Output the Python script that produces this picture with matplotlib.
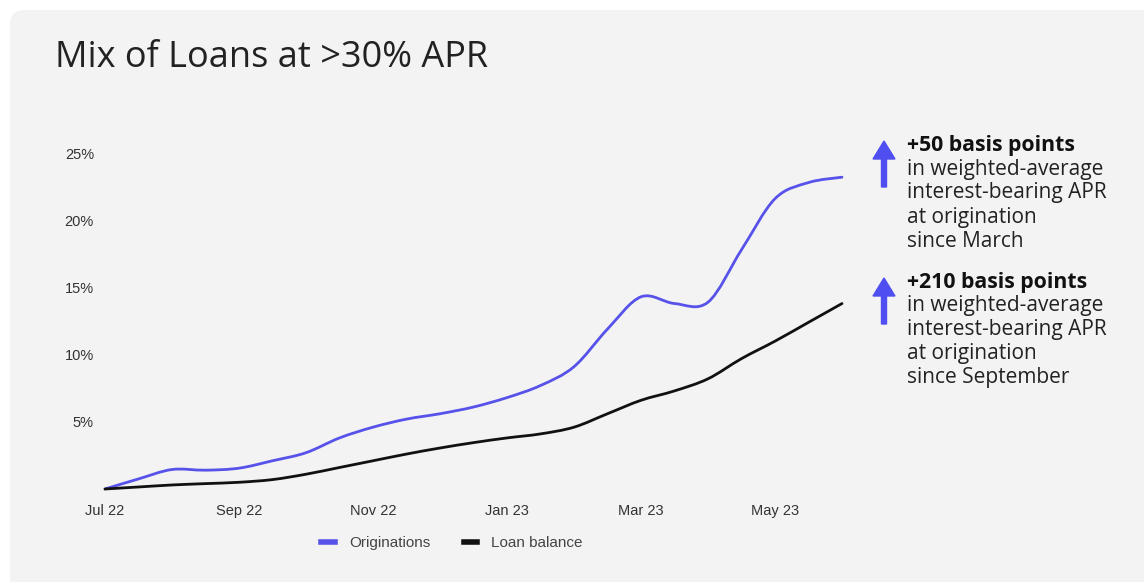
import matplotlib
matplotlib.use("Agg")
import matplotlib.pyplot as plt
from matplotlib.patches import FancyBboxPatch, FancyArrow, PathPatch
from matplotlib.path import Path
from matplotlib.lines import Line2D
from matplotlib.transforms import IdentityTransform

# data (semi-monthly reading, months from Jul 22)
months = [i * 0.5 for i in range(23)]
originations = [0, 0.75, 1.45, 1.4, 1.55, 2.1, 2.7, 3.8, 4.6, 5.2, 5.6, 6.1,
                6.8, 7.7, 9.1, 11.9, 14.3, 13.8, 13.9, 17.8, 21.6, 22.8, 23.2]
loan_balance = [0, 0.15, 0.3, 0.4, 0.5, 0.7, 1.1, 1.6, 2.1, 2.6, 3.05, 3.45,
                3.8, 4.1, 4.6, 5.6, 6.6, 7.3, 8.2, 9.7, 11.0, 12.4, 13.8]
tick_pos = [0, 2, 4, 6, 8, 10]
tick_labels = ["Jul 22", "Sep 22", "Nov 22", "Jan 23", "Mar 23", "May 23"]
y_ticks = [5, 10, 15, 20, 25]

W, H = 1144, 582
BLUE = "#5652ea"


def smooth_path(xs, ys):
    # catmull-rom through the points, drawn as cubic bezier segments
    pts = list(zip(xs, ys))
    verts = [pts[0]]
    codes = [Path.MOVETO]
    for i in range(len(pts) - 1):
        p0 = pts[max(i - 1, 0)]
        p1 = pts[i]
        p2 = pts[i + 1]
        p3 = pts[min(i + 2, len(pts) - 1)]
        c1 = (p1[0] + (p2[0] - p0[0]) / 6, p1[1] + (p2[1] - p0[1]) / 6)
        c2 = (p2[0] - (p3[0] - p1[0]) / 6, p2[1] - (p3[1] - p1[1]) / 6)
        verts += [c1, c2, p2]
        codes += [Path.CURVE4] * 3
    return Path(verts, codes)


fig = plt.figure(figsize=(W / 100, H / 100), dpi=100)
fig.patch.set_facecolor("white")

# grey card behind everything
card = FancyBboxPatch((10, -40), 1200, H - 10 + 40,
                      boxstyle="round,pad=0,rounding_size=14",
                      transform=IdentityTransform(), facecolor="#f3f3f3",
                      edgecolor="none", zorder=0)
fig.add_artist(card)

ax = fig.add_axes([105 / W, (H - 489) / H, 737 / W, 336 / H])
ax.set_facecolor("none")
for ys, col in [(originations, BLUE), (loan_balance, "#111111")]:
    ax.add_patch(PathPatch(smooth_path(months, ys), fill=False, edgecolor=col,
                           lw=2.0, capstyle="round", joinstyle="round",
                           clip_on=False))
ax.set_xlim(0, 11)
ax.set_ylim(0, 25)
for s in ax.spines.values():
    s.set_visible(False)
ax.set_xticks(tick_pos)
ax.set_xticklabels(tick_labels)
ax.set_yticks(y_ticks)
ax.set_yticklabels([f"{v}%" for v in y_ticks])
ax.tick_params(length=0, labelsize=10.5, labelcolor="#333333")
ax.tick_params(axis="x", pad=11)
ax.tick_params(axis="y", pad=8)
for lab in ax.get_xticklabels() + ax.get_yticklabels():
    lab.set_family("Liberation Sans")

fig.text(55 / W, 1 - 58 / H, "Mix of Loans at >30% APR", fontsize=26,
         family="Open Sans", color="#222222", va="center", ha="left")

handles = [Line2D([], [], color=BLUE, lw=4),
           Line2D([], [], color="#111111", lw=4)]
fig.legend(handles, ["Originations", "Loan balance"], loc="center",
           bbox_to_anchor=(452 / W, 1 - 543 / H), ncol=2, frameon=False,
           handlelength=0.9, columnspacing=2.2, handletextpad=0.9,
           prop={"family": "Liberation Sans", "size": 11},
           labelcolor="#444444")

# right-hand notes
notes = [
    (145, "+50 basis points", "since March"),
    (282, "+210 basis points", "since September"),
]
for top, head, tail in notes:
    fig.text(907 / W, 1 - top / H, head, fontsize=15.3, fontweight="bold",
             family="Open Sans", color="#111111", va="center", ha="left")
    body = ["in weighted-average", "interest-bearing APR", "at origination", tail]
    for i, line in enumerate(body):
        fig.text(907 / W, 1 - (top + 24 * (i + 1)) / H, line, fontsize=15,
                 family="Open Sans", color="#222222", va="center", ha="left")
    arrow = FancyArrow(884, H - (top + 42), 0, 46, width=5, head_width=22,
                       head_length=18, length_includes_head=True,
                       color="#4f4ef0", transform=IdentityTransform())
    fig.add_artist(arrow)

fig.savefig("out.png", dpi=100, facecolor=fig.get_facecolor())
